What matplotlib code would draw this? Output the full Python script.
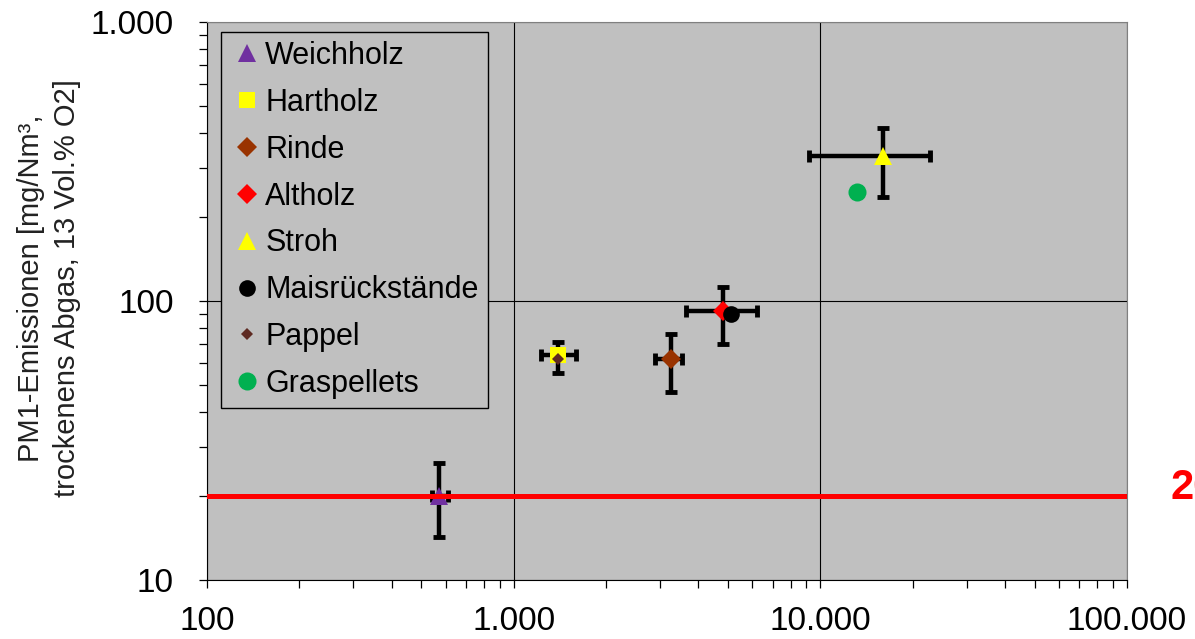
import numpy as np
import matplotlib
matplotlib.use("Agg")
import matplotlib.pyplot as plt
from matplotlib.ticker import FixedLocator, LogLocator, FuncFormatter, NullFormatter

plt.rcParams["font.family"] = ["Liberation Sans", "DejaVu Sans"]

# Brennstoffe (Reihenfolge wie in der Legende)
names = ["Weichholz", "Hartholz", "Rinde", "Altholz", "Stroh",
         "Maisrückstände", "Pappel", "Graspellets"]
x_vals = [570, 1400, 3250, 4800, 16000, 5100, 1390, 13200]
y_vals = [20, 64, 62, 92, 330, 90, 62, 245]

# Fehlerbalken (untere / obere Grenze), None = kein Fehlerbalken
x_low = [542, 1230, 2900, 3650, 9200, None, None, None]
x_high = [611, 1600, 3550, 6200, 22700, None, None, None]
y_low = [14.3, 55, 47, 70, 236, None, None, None]
y_high = [26.2, 71, 76, 112, 417, None, None, None]

limit_value = 20
limit_label = "20"

x_ticks = [100, 1000, 10000, 100000]
y_ticks = [10, 100, 1000]
ylabel = "PM1-Emissionen [mg/Nm³,\ntrockenens Abgas, 13 Vol.% O2]"

markers = ["^", "s", "D", "D", "^", "o", "D", "o"]
colors = ["#7030A0", "#FFFF00", "#993300", "#FF0000", "#FFFF00",
          "#000000", "#5E2A22", "#00B050"]
msizes = [13.5, 11.5, 10, 10, 13.5, 12, 6.5, 13]

W, H = 1195, 639
fig = plt.figure(figsize=(W / 100, H / 100), dpi=100)
ax = fig.add_axes([207 / W, 1 - 580 / H, (1127 - 207) / W, (580 - 22) / H])
ax.set_facecolor("#C0C0C0")
ax.set_xscale("log")
ax.set_yscale("log")
ax.set_xlim(100, 100000)
ax.set_ylim(10, 1000)

# Fehlerbalken
for i in range(len(names)):
    if x_low[i] is None:
        continue
    xerr = [[x_vals[i] - x_low[i]], [x_high[i] - x_vals[i]]]
    yerr = [[y_vals[i] - y_low[i]], [y_high[i] - y_vals[i]]]
    ax.errorbar([x_vals[i]], [y_vals[i]], xerr=xerr, yerr=yerr, fmt="none",
                ecolor="black", elinewidth=3.2, capsize=4, capthick=3.5,
                zorder=2)

# Punkte
for i in range(len(names)):
    ax.plot([x_vals[i]], [y_vals[i]], linestyle="none", marker=markers[i],
            markersize=msizes[i], markerfacecolor=colors[i],
            markeredgewidth=0, label=names[i], zorder=3)

# Grenzwert
ax.axhline(limit_value, color="red", linewidth=3.6, zorder=4)
fig.text(1170 / W, 1 - 488 / H, limit_label, color="red", fontsize=30,
         fontweight="bold", ha="left", va="center")

ax.grid(True, which="major", color="black", linewidth=0.8)
ax.set_axisbelow(True)

ax.xaxis.set_major_locator(FixedLocator(x_ticks))
ax.yaxis.set_major_locator(FixedLocator(y_ticks))
ax.xaxis.set_minor_locator(LogLocator(base=10, subs=np.arange(2, 10)))
ax.yaxis.set_minor_locator(LogLocator(base=10, subs=np.arange(2, 10)))
fmt = FuncFormatter(lambda v, p: f"{int(round(v)):,}".replace(",", "."))
ax.xaxis.set_major_formatter(fmt)
ax.yaxis.set_major_formatter(fmt)
ax.xaxis.set_minor_formatter(NullFormatter())
ax.yaxis.set_minor_formatter(NullFormatter())

ax.tick_params(which="both", direction="out", length=5.8, width=0.9,
               color="black", labelsize=24)
ax.tick_params(axis="x", which="major", pad=13)
ax.tick_params(axis="y", which="major", pad=18)

for s in ["left", "bottom"]:
    ax.spines[s].set_color("black")
for s in ["top", "right"]:
    ax.spines[s].set_color("#808080")

fig.text(49 / W, 1 - 288 / H, ylabel, rotation=90, fontsize=21,
         ha="center", va="center", multialignment="center",
         linespacing=1.4, color="#222222")

leg = ax.legend(loc="upper left", bbox_to_anchor=(221 / W, 1 - 32 / H),
                bbox_transform=fig.transFigure, borderaxespad=0,
                fontsize=22, frameon=True, fancybox=False,
                edgecolor="black", facecolor="#C0C0C0", framealpha=1,
                borderpad=0.3, labelspacing=0.55, handlelength=1.1,
                handletextpad=0.05, numpoints=1)
leg.get_frame().set_linewidth(1.0)
leg.set_zorder(6)

fig.savefig("out.png", dpi=100)
